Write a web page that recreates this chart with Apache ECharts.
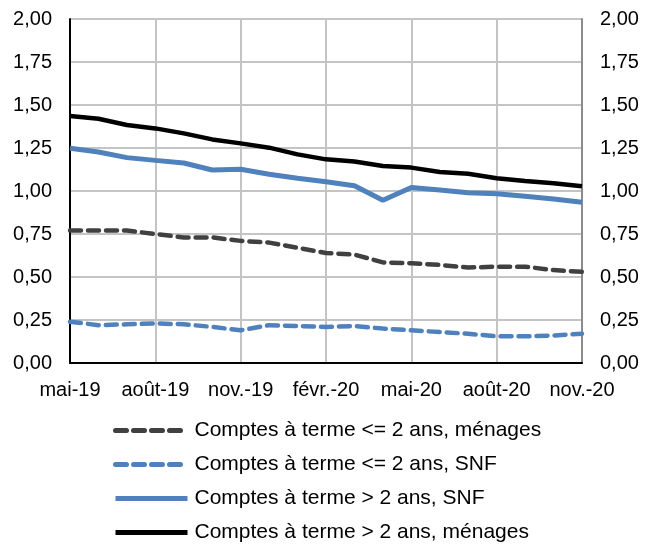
<!DOCTYPE html>
<html><head><meta charset="utf-8">
<script src="https://cdn.jsdelivr.net/npm/echarts@6/dist/echarts.min.js"></script>
<style>html,body{margin:0;padding:0;background:#fff}#c{width:654px;height:544px}</style>
</head><body><div id="c"></div>
<script>
const categories = ['mai-19','juin-19','juil.-19','août-19','sept.-19','oct.-19','nov.-19','déc.-19','janv.-20','févr.-20','mars-20','avr.-20','mai-20','juin-20','juil.-20','août-20','sept.-20','oct.-20','nov.-20'];
const menagesCourt = [0.77,0.77,0.77,0.75,0.73,0.73,0.71,0.70,0.67,0.64,0.63,0.585,0.58,0.57,0.555,0.56,0.56,0.54,0.53];
const snfCourt = [0.24,0.22,0.225,0.23,0.225,0.21,0.19,0.22,0.215,0.21,0.215,0.20,0.19,0.18,0.17,0.155,0.155,0.16,0.17];
const snfLong = [1.248,1.227,1.194,1.178,1.163,1.122,1.126,1.097,1.074,1.054,1.03,0.946,1.02,1.006,0.99,0.984,0.969,0.953,0.935];
const menagesLong = [1.436,1.42,1.384,1.364,1.335,1.30,1.277,1.252,1.213,1.184,1.172,1.145,1.136,1.11,1.10,1.074,1.058,1.045,1.027];
const names = ['Comptes à terme <= 2 ans, ménages','Comptes à terme <= 2 ans, SNF','Comptes à terme > 2 ans, SNF','Comptes à terme > 2 ans, ménages'];

const font = 'Liberation Sans, Arial, sans-serif';
const fmt = v => v.toFixed(2).replace('.', ',');
const chart = echarts.init(document.getElementById('c'));
const yAxisBase = {
  type:'value', min:0, max:2, interval:0.25,
  axisLabel:{formatter:fmt, color:'#000', fontFamily:font, fontSize:20, margin:18},
  axisTick:{show:false},
  splitLine:{show:true, lineStyle:{color:'#c4c4c4', width:2}}
};
chart.setOption({
  animation:false,
  grid:{left:70, right:72, top:19, bottom:181},
  xAxis:{type:'category', data:categories, boundaryGap:false,
    axisLine:{lineStyle:{color:'#000', width:2}},
    axisTick:{show:false},
    axisLabel:{interval:2, color:'#000', fontFamily:font, fontSize:20, margin:17},
    splitLine:{show:true, interval:2, lineStyle:{color:'#c4c4c4', width:2}}},
  yAxis:[
    Object.assign({}, yAxisBase, {position:'left', axisLine:{show:true, lineStyle:{color:'#000', width:2}}}),
    Object.assign({}, yAxisBase, {position:'right', axisLine:{show:true, lineStyle:{color:'#8c8c8c', width:2}}})
  ],
  legend:{orient:'vertical', left:113, top:420, padding:0, itemWidth:72, itemHeight:14, itemGap:13,
    itemStyle:{opacity:0},
    lineStyle:{width:5},
    textStyle:{color:'#000', fontFamily:font, fontSize:21, lineHeight:21, padding:[0,0,0,2]},
    data:names},
  series:[
    {name:names[0], type:'line', data:menagesCourt, symbol:'none', lineStyle:{color:'#404040', width:4.5, type:[11,7], cap:'round'}, itemStyle:{color:'#404040'}},
    {name:names[1], type:'line', data:snfCourt, symbol:'none', lineStyle:{color:'#4f81bd', width:4.5, type:[11,7], cap:'round'}, itemStyle:{color:'#4f81bd'}},
    {name:names[2], type:'line', data:snfLong, symbol:'none', lineStyle:{color:'#4f81bd', width:5}, itemStyle:{color:'#4f81bd'}},
    {name:names[3], type:'line', data:menagesLong, symbol:'none', lineStyle:{color:'#000', width:4.5}, itemStyle:{color:'#000'}}
  ]
});
</script></body></html>
